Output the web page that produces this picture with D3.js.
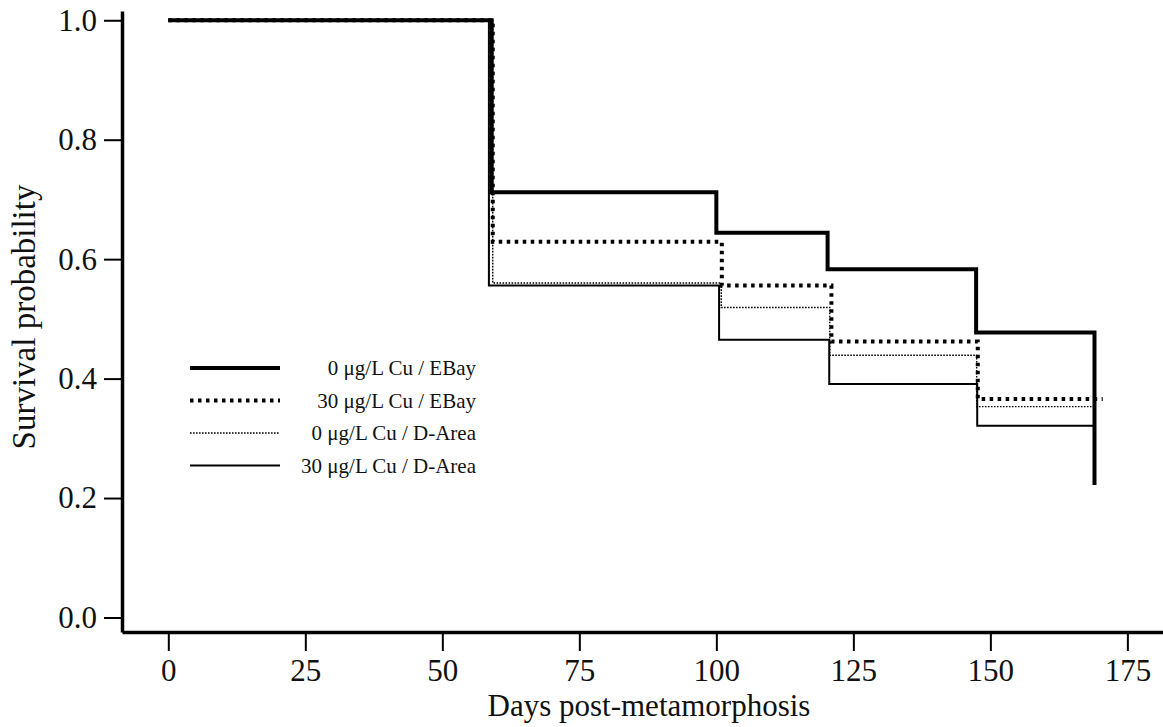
<!DOCTYPE html>
<html>
<head>
<meta charset="utf-8">
<script src="https://cdn.jsdelivr.net/npm/d3@7"></script>
<style>
  body { margin: 0; background: #fff; }
  text { font-family: "Liberation Serif", "Times New Roman", serif; fill: #111; }
</style>
</head>
<body>
<svg id="plot" width="1163" height="727"></svg>
<script>
// survival curves (day of each step, survival after it)
const eb0Days = [0, 59, 100, 120.3, 147.4, 169];
const eb0Surv = [1.0, 0.712, 0.644, 0.583, 0.477, 0.222];

const eb30Days = [0, 59.2, 101, 121, 147.7, 170.5];
const eb30Surv = [1.0, 0.629, 0.556, 0.462, 0.366, 0.366];

const da0Days = [0, 59.2, 100.9, 120.7, 147.5, 168.8];
const da0Surv = [1.0, 0.560, 0.519, 0.439, 0.353, 0.353];

const da30Days = [0, 58.5, 100.5, 120.6, 147.6, 169];
const da30Surv = [1.0, 0.556, 0.465, 0.391, 0.321, 0.321];

const seriesNames = ['0 μg/L Cu / EBay', '30 μg/L Cu / EBay', '0 μg/L Cu / D-Area', '30 μg/L Cu / D-Area'];
const xTicks = [0, 25, 50, 75, 100, 125, 150, 175];
const yTicks = [0.0, 0.2, 0.4, 0.6, 0.8, 1.0];

d3.select(window).on('load', init);

function init() {
  const svg = d3.select('#plot');

  // plot frame (axis lines run along these edges)
  const left = 122, right = 1163, top = 11, bottom = 632;

  const xScale = d3.scaleLinear()
    .domain([-8.45, 181.5])
    .range([left, right]);

  const yScale = d3.scaleLinear()
    .domain([-0.0243, 1.0155])
    .range([bottom, top]);

  const styles = [
    { w: 4, dash: null },
    { w: 4, dash: '3.5,4.5' },
    { w: 1.4, dash: '1.6,1.4' },
    { w: 2, dash: null }
  ];

  const series = [
    d3.zip(eb0Days, eb0Surv),
    d3.zip(eb30Days, eb30Surv),
    d3.zip(da0Days, da0Surv),
    d3.zip(da30Days, da30Surv)
  ];

  const line = d3.line()
    .curve(d3.curveStepAfter)
    .x(d => xScale(d[0]))
    .y(d => yScale(d[1]));

  // draw thin ones first so the heavy curve sits on top
  [3, 2, 1, 0].forEach(i => {
    svg.append('path')
      .attr('d', line(series[i]))
      .attr('fill', 'none')
      .attr('stroke', '#000')
      .attr('stroke-width', styles[i].w)
      .attr('stroke-dasharray', styles[i].dash);
  });

  const xAxis = svg.append('g')
    .attr('transform', 'translate(0,' + bottom + ')')
    .call(d3.axisBottom(xScale).tickValues(xTicks).tickSize(19).tickSizeOuter(0).tickPadding(8));
  xAxis.select('.domain').attr('stroke-width', 3.5);
  xAxis.selectAll('.tick line').attr('stroke-width', 2);
  xAxis.selectAll('text').attr('font-size', 31).attr('font-family', '"Liberation Serif", serif').attr('fill', '#111');

  const yAxis = svg.append('g')
    .attr('transform', 'translate(' + left + ',0)')
    .call(d3.axisLeft(yScale).tickValues(yTicks).tickSize(18).tickSizeOuter(0).tickPadding(7)
      .tickFormat(d3.format('.1f')));
  yAxis.select('.domain').attr('stroke-width', 3.5);
  yAxis.selectAll('.tick line').attr('stroke-width', 2);
  yAxis.selectAll('text').attr('font-size', 31).attr('font-family', '"Liberation Serif", serif').attr('fill', '#111');

  svg.append('text')
    .attr('x', 649)
    .attr('y', 716)
    .attr('text-anchor', 'middle')
    .attr('font-size', 31)
    .text('Days post-metamorphosis');

  svg.append('text')
    .attr('transform', 'translate(35,317) rotate(-90)')
    .attr('text-anchor', 'middle')
    .attr('font-size', 33)
    .text('Survival probability');

  // legend
  const legend = svg.append('g').attr('transform', 'translate(190,368)');
  seriesNames.forEach((name, i) => {
    const g = legend.append('g').attr('transform', 'translate(0,' + (i * 32.5) + ')');
    g.append('line')
      .attr('x1', 0).attr('x2', 90)
      .attr('stroke', '#000')
      .attr('stroke-width', styles[i].w)
      .attr('stroke-dasharray', styles[i].dash);
    g.append('text')
      .attr('x', 286)
      .attr('y', 7)
      .attr('text-anchor', 'end')
      .attr('font-size', 21)
      .text(name);
  });
}
</script>
</body>
</html>
